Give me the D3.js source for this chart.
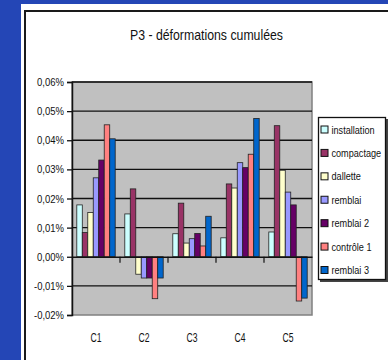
<!DOCTYPE html>
<html>
<head>
<meta charset="utf-8">
<script src="https://cdn.jsdelivr.net/npm/d3@7"></script>
<style>
  html, body { margin: 0; padding: 0; background: #2446b6; }
  svg { display: block; }
  text { font-family: "Liberation Sans", Arial, sans-serif; fill: #111; }
</style>
</head>
<body>
<svg id="chart" width="388" height="360"></svg>
<script>
// Categories, series and values (percent units)
const categories = ["C1", "C2", "C3", "C4", "C5"];
const seriesNames = ["installation", "compactage", "dallette", "remblai", "remblai 2", "contrôle 1", "remblai 3"];
const seriesColors = ["#ccffff", "#993366", "#ffffcc", "#9999ff", "#660066", "#ff8080", "#0066cc"];
const installation = [0.0178, 0.0147, 0.0079, 0.0065, 0.0085];
const compactage   = [0.0083, 0.0233, 0.0184, 0.0250, 0.0450];
const dallette     = [0.0152, -0.0060, 0.0047, 0.0236, 0.0297];
const remblai      = [0.0271, -0.0073, 0.0062, 0.0323, 0.0222];
const remblai2     = [0.0332, -0.0073, 0.0080, 0.0306, 0.0178];
const controle1    = [0.0453, -0.0144, 0.0037, 0.0352, -0.0152];
const remblai3     = [0.0405, -0.0073, 0.0139, 0.0475, -0.0142];
const yTicks = [-0.02, -0.01, 0, 0.01, 0.02, 0.03, 0.04, 0.05, 0.06];
const title = "P3 - déformations cumulées";

const seriesValues = [installation, compactage, dallette, remblai, remblai2, controle1, remblai3];

const svg = d3.select("#chart");

// Chart frame
svg.append("rect").attr("x", 21).attr("y", 4).attr("width", 400).attr("height", 400).attr("fill", "#ffffff");
svg.append("rect").attr("x", 25).attr("y", 11).attr("width", 400).attr("height", 400)
  .attr("fill", "none").attr("stroke", "#1a1a1a").attr("stroke-width", 2);

// Title
svg.append("text")
  .attr("x", 206.5).attr("y", 40)
  .attr("text-anchor", "middle")
  .attr("font-size", 15)
  .attr("textLength", 153).attr("lengthAdjust", "spacingAndGlyphs")
  .text(title);

// Scales
const plot = { left: 72, right: 312, top: 82, bottom: 315 };
const x0 = d3.scaleBand().domain(categories).range([plot.left, plot.right]).padding(0);
const x1 = d3.scaleBand().domain(seriesNames)
  .range([x0.bandwidth() * 0.1, x0.bandwidth() * 0.9]).padding(0);
const y = d3.scaleLinear().domain([-0.02, 0.06]).range([plot.bottom, plot.top]);

const locale = d3.formatLocale({ decimal: ",", thousands: " ", grouping: [3], currency: ["", "€"], minus: "-" });
const fmt = locale.format(".2f");

// Plot area
svg.append("rect")
  .attr("x", plot.left).attr("y", plot.top)
  .attr("width", plot.right - plot.left).attr("height", plot.bottom - plot.top)
  .attr("fill", "#c0c0c0").attr("stroke", "#808080").attr("stroke-width", 1.5);

// Gridlines
svg.append("g").selectAll("line").data(yTicks.filter(d => d !== 0 && d !== -0.02)).join("line")
  .attr("x1", plot.left).attr("x2", plot.right)
  .attr("y1", d => y(d)).attr("y2", d => y(d))
  .attr("stroke", "#111").attr("stroke-width", 1.3);

// Bars
const groups = svg.append("g").selectAll("g").data(categories).join("g")
  .attr("transform", c => `translate(${x0(c)},0)`);
groups.selectAll("rect")
  .data((c, ci) => seriesNames.map((s, si) => ({ s, si, v: seriesValues[si][ci] })))
  .join("rect")
  .attr("x", d => x1(d.s))
  .attr("width", x1.bandwidth())
  .attr("y", d => Math.min(y(d.v), y(0)))
  .attr("height", d => Math.abs(y(d.v) - y(0)))
  .attr("fill", d => seriesColors[d.si])
  .attr("stroke", "#222").attr("stroke-width", 0.8);

// Y axis
const yAxis = d3.axisLeft(y).tickValues(yTicks).tickSize(5).tickPadding(3).tickFormat(d => fmt(d) + "%");
const yg = svg.append("g").attr("transform", `translate(${plot.left},0)`).call(yAxis);
yg.select(".domain").attr("stroke", "#111").attr("stroke-width", 1.5);
yg.selectAll(".tick line").attr("stroke", "#111").attr("stroke-width", 1.3);
yg.selectAll(".tick text")
  .attr("font-size", 11)
  .attr("font-family", "Liberation Sans, Arial, sans-serif")
  .attr("fill", "#222")
  .attr("textLength", d => d < 0 ? 30 : 27)
  .attr("lengthAdjust", "spacingAndGlyphs");

// Category axis at zero
const xAxis = d3.axisBottom(x0).tickSize(0).tickFormat("");
const xg = svg.append("g").attr("transform", `translate(0,${y(0)})`).call(xAxis);
xg.select(".domain").attr("stroke", "#111").attr("stroke-width", 1.3);
xg.append("g").selectAll("line").data(categories.slice(1)).join("line")
  .attr("x1", c => x0(c)).attr("x2", c => x0(c))
  .attr("y1", 0).attr("y2", 6)
  .attr("stroke", "#111").attr("stroke-width", 1.2);

// Category labels
svg.append("g").selectAll("text").data(categories).join("text")
  .attr("x", c => x0(c) + x0.bandwidth() / 2)
  .attr("y", 342)
  .attr("text-anchor", "middle")
  .attr("font-size", 12)
  .attr("textLength", 11).attr("lengthAdjust", "spacingAndGlyphs")
  .attr("fill", "#222")
  .text(c => c);

// Legend
const legendY = d3.scalePoint().domain(seriesNames).range([129.5, 270]);
svg.append("rect").attr("x", 320).attr("y", 119).attr("width", 68).attr("height", 163).attr("fill", "#444");
svg.append("rect").attr("x", 318.5).attr("y", 117.5).attr("width", 67).attr("height", 162)
  .attr("fill", "#ffffff").attr("stroke", "#111").attr("stroke-width", 1.3);
const lg = svg.append("g").selectAll("g").data(seriesNames).join("g")
  .attr("transform", s => `translate(321,${legendY(s)})`);
lg.append("rect")
  .attr("x", 0).attr("y", -3.5).attr("width", 7).attr("height", 7)
  .attr("fill", (s, i) => seriesColors[i])
  .attr("stroke", "#111").attr("stroke-width", 1);
lg.append("text")
  .attr("x", 10.5).attr("y", 4)
  .attr("font-size", 11)
  .attr("fill", "#222")
  .attr("transform", "translate(10.5,0) scale(0.83,1) translate(-10.5,0)")
  .text(s => s);
</script>
</body>
</html>
